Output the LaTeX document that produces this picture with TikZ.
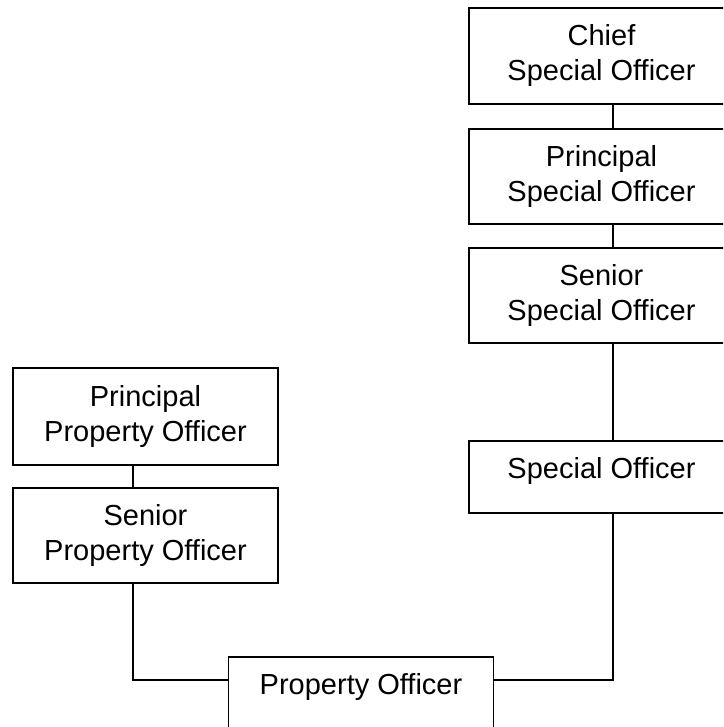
\documentclass[tikz,border=0pt]{standalone}
\usepackage{fontspec}
\setmainfont{Liberation Sans}
\begin{document}
\begin{tikzpicture}[x=1pt,y=-1pt,
  box/.style={draw=black, line width=1.3pt, rectangle, minimum width=265pt, inner sep=0pt,
    align=center, font=\fontsize{29}{35}\selectfont, fill=white},
  onebox/.style={box, text depth=18pt},
  link/.style={draw=black, line width=1.3pt}]
\useasboundingbox (0,0) rectangle (723,727);
\clip (0,0) rectangle (723,727);
\node[box, minimum height=96pt] (chief) at (601.5,56) {Chief\\Special Officer};
\node[box, minimum height=95pt] (pso) at (601.5,176.5) {Principal\\Special Officer};
\node[box, minimum height=95pt] (sso) at (601.5,295.5) {Senior\\Special Officer};
\node[onebox, minimum height=72pt] (so) at (601.5,477) {Special Officer};
\node[box, minimum height=97pt] (ppo) at (145.5,416.5) {Principal\\Property Officer};
\node[box, minimum height=95pt] (spo) at (145.5,535.5) {Senior\\Property Officer};
\node[onebox, minimum height=71pt] (po) at (361,692.5) {Property Officer};
\draw[link] ([xshift=11.5pt]chief.south) -- ([xshift=11.5pt]pso.north);
\draw[link] ([xshift=11.5pt]pso.south) -- ([xshift=11.5pt]sso.north);
\draw[link] ([xshift=11.5pt]sso.south) -- ([xshift=11.5pt]so.north);
\draw[link] ([xshift=-12.5pt]ppo.south) -- ([xshift=-12.5pt]spo.north);
\draw[link] ([xshift=-12.5pt]spo.south) |- ([yshift=12.5pt]po.west);
\draw[link] ([xshift=11.5pt]so.south) |- ([yshift=12.5pt]po.east);
\end{tikzpicture}
\end{document}
